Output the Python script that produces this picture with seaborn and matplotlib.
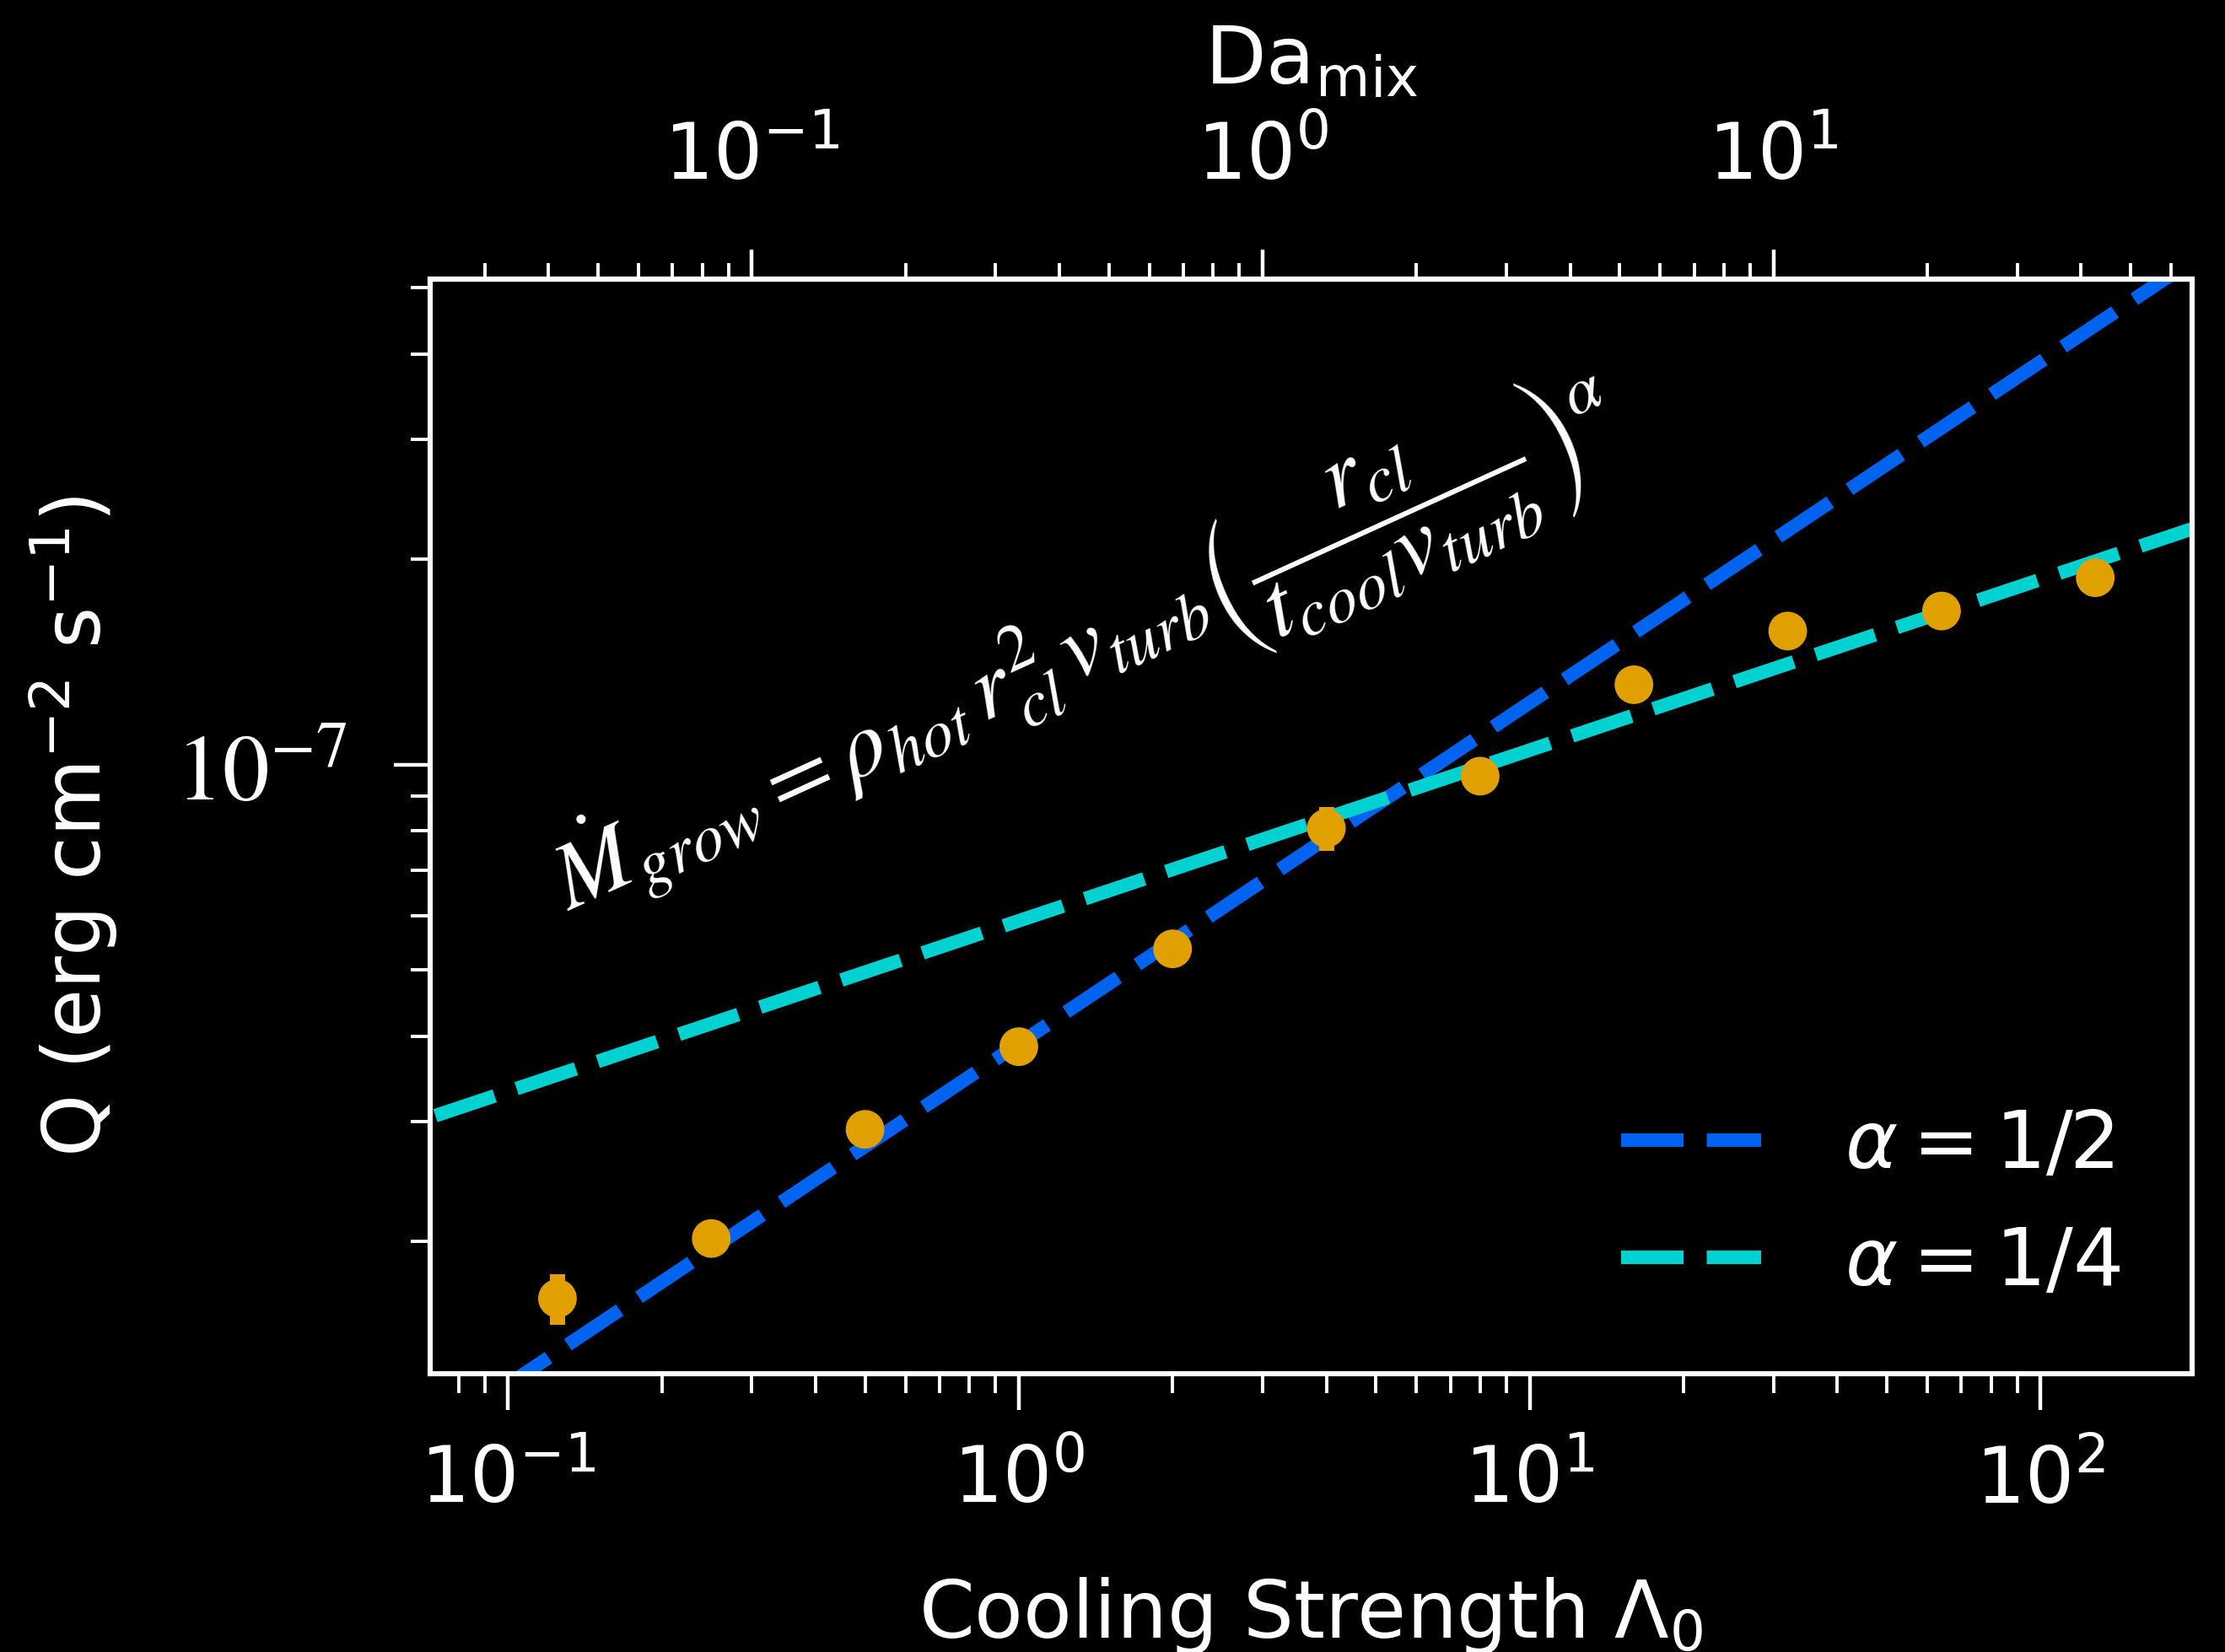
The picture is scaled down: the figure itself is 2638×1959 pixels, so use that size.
import numpy as np
import pandas as pd
import matplotlib
matplotlib.use("Agg")
import matplotlib.pyplot as plt
from matplotlib.ticker import LogLocator, FixedLocator, FixedFormatter, NullFormatter
import seaborn as sns

# Simulation measurements: cooling strength vs. surface brightness Q
cooling_strength = [0.125, 0.25, 0.5, 1, 2, 4, 8, 16, 32, 64, 128]
q_values = [1.65e-8, 2.02e-8, 2.92e-8, 3.86e-8, 5.37e-8, 8.07e-8,
            9.62e-8, 1.31e-7, 1.57e-7, 1.68e-7, 1.88e-7]
q_errors = [1.4e-9, 5e-10, 6e-10, 8e-10, 1.2e-9, 6.0e-9,
            2.0e-9, 3.0e-9, 3.5e-9, 3.5e-9, 4.5e-9]

# Power-law scalings (endpoints on the plotted range)
model_x = [0.05, 300]
model_half = [8.72e-9, 6.75e-7]      # alpha = 1/2
model_quarter = [2.79e-8, 2.46e-7]   # alpha = 1/4
model_labels = [r"$\alpha = 1/2$", r"$\alpha = 1/4$"]
model_colors = ["#0064F0", "#00D2D2"]

# Top axis ticks (Damkohler number)
da_major = [0.1, 1, 10]
da_minor = [0.03, 0.04, 0.05, 0.06, 0.07, 0.08, 0.09,
            0.2, 0.3, 0.4, 0.5, 0.6, 0.7, 0.8, 0.9,
            2, 3, 4, 5, 6, 7, 8, 9, 20, 30, 40, 50, 60]

point_color = "#E0A000"

sns.set_theme(style="dark")
plt.rcParams.update({
    "figure.facecolor": "black",
    "axes.facecolor": "black",
    "savefig.facecolor": "black",
    "text.color": "white",
    "axes.labelcolor": "white",
    "xtick.color": "white",
    "ytick.color": "white",
    "axes.edgecolor": "white",
    "axes.grid": False,
})
plt.rcParams["font.family"] = ["DejaVu Sans"]
plt.rcParams["mathtext.fontset"] = "dejavusans"

fig = plt.figure(figsize=(2638 / 200, 1959 / 200), dpi=200)
ax = fig.add_axes([0.1933, 0.1685, 0.9852 - 0.1933, 0.831 - 0.1685])

models = pd.DataFrame({
    "x": model_x + model_x,
    "Q": model_half + model_quarter,
    "model": [model_labels[0]] * 2 + [model_labels[1]] * 2,
})
sns.lineplot(data=models, x="x", y="Q", hue="model", style="model",
             palette=dict(zip(model_labels, model_colors)),
             dashes={model_labels[0]: (4.6, 1.7), model_labels[1]: (4.6, 1.7)},
             linewidth=5.8, ax=ax, zorder=2)

ax.errorbar(cooling_strength, q_values, yerr=q_errors, fmt="none",
            ecolor=point_color, elinewidth=6.5, capsize=0, zorder=3)
sns.scatterplot(x=cooling_strength, y=q_values, color=point_color, s=16.5 ** 2,
                edgecolor="none", ax=ax, zorder=4, legend=False)

ax.set_xscale("log")
ax.set_yscale("log")
ax.set_xlim(0.0704, 198)
ax.set_ylim(1.28e-8, 5.15e-7)

for side in ["left", "right", "top", "bottom"]:
    ax.spines[side].set_visible(True)
    ax.spines[side].set_color("white")
    ax.spines[side].set_linewidth(2.2)

# x ticks
ax.xaxis.set_major_locator(LogLocator(base=10, numticks=12))
ax.xaxis.set_minor_locator(LogLocator(base=10, subs=np.arange(2, 10), numticks=12))
ax.tick_params(axis="x", which="major", direction="out", length=15.5, width=1.6,
               labelsize=33, pad=14, bottom=True, top=False)
ax.tick_params(axis="x", which="minor", direction="out", length=8.3, width=1.4,
               bottom=True, top=False)

# y ticks
ax.yaxis.set_major_locator(FixedLocator([1e-7]))
ax.yaxis.set_major_formatter(FixedFormatter([r"$10^{-7}$"]))
ax.yaxis.set_minor_locator(LogLocator(base=10, subs=np.arange(2, 10), numticks=12))
ax.yaxis.set_minor_formatter(NullFormatter())
ax.tick_params(axis="y", which="major", direction="out", length=15.5, width=1.6,
               labelsize=40, pad=20, left=True, right=False)
ax.tick_params(axis="y", which="minor", direction="out", length=8.3, width=1.4,
               left=True, right=False)
for lbl in ax.get_yticklabels():
    lbl.set_math_fontfamily("stix")

ax.set_xlabel(r"Cooling Strength $\Lambda_0$", fontsize=34, labelpad=24)
ax.set_ylabel(r"Q (erg cm$^{-2}$ s$^{-1}$)", fontsize=34, labelpad=24)

# Damkohler number on the top axis
top = ax.secondary_xaxis("top", functions=(lambda x: x / 3.0, lambda x: x * 3.0))
top.xaxis.set_major_locator(FixedLocator(da_major))
top.xaxis.set_major_formatter(FixedFormatter([r"$10^{-1}$", r"$10^{0}$", r"$10^{1}$"]))
top.xaxis.set_minor_locator(FixedLocator(da_minor))
top.xaxis.set_minor_formatter(NullFormatter())
top.tick_params(axis="x", which="major", direction="out", length=12.5, width=1.6,
                labelsize=33, pad=23, colors="white")
top.tick_params(axis="x", which="minor", direction="out", length=7, width=1.4,
                colors="white")
top.spines["top"].set_color("white")
top.spines["top"].set_linewidth(2.2)
top.set_xlabel(r"Da$_{\rm mix}$", fontsize=34, labelpad=15, color="white")

leg = ax.legend(loc="lower right", fontsize=34, frameon=False,
                handlelength=1.75, handletextpad=1.05, labelspacing=0.5,
                bbox_to_anchor=(1.0, 0.0))
for t in leg.get_texts():
    t.set_color("white")

ax.text(0.078, 0.422,
        r"$\dot{M}_{grow} = \rho_{hot}\, r_{cl}^{2}\, v_{turb}\left(\dfrac{r_{cl}}{t_{cool} v_{turb}}\right)^{\alpha}$",
        transform=ax.transAxes, rotation=24.5, rotation_mode="anchor",
        ha="left", va="baseline", fontsize=40, color="white",
        math_fontfamily="stix")

fig.savefig("out.png", dpi=200)
